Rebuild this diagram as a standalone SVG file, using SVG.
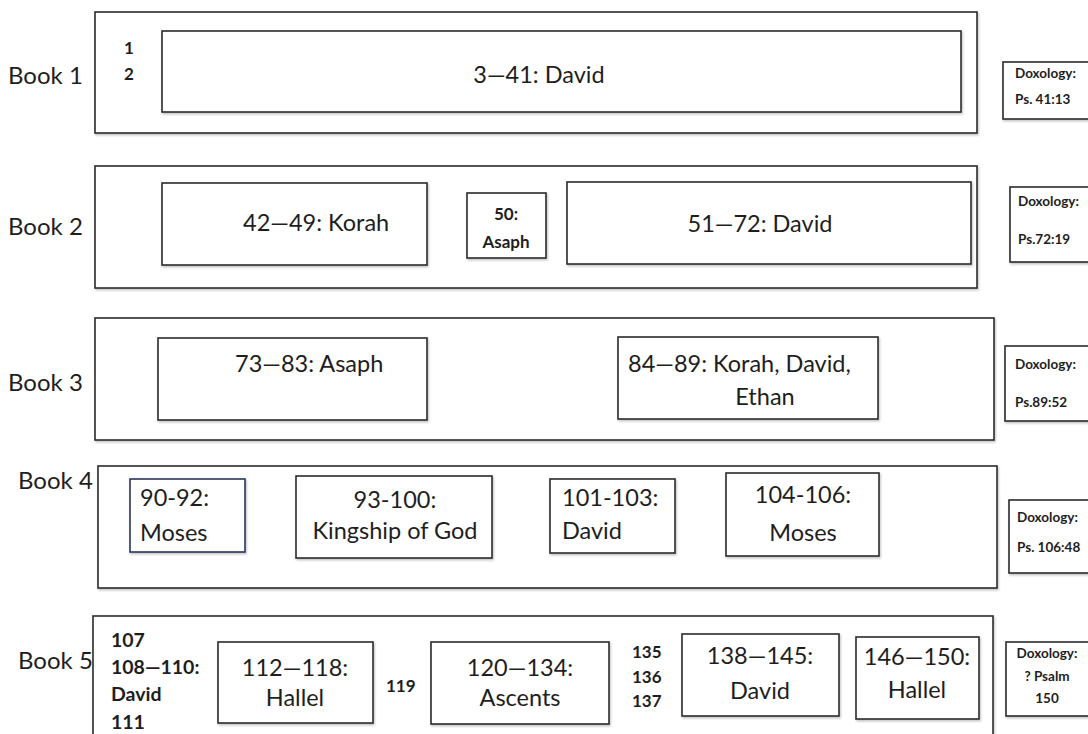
<svg xmlns="http://www.w3.org/2000/svg" width="1088" height="734" viewBox="0 0 1088 734">
<defs>
<filter id="sh" x="-5%" y="-5%" width="110%" height="115%"><feDropShadow dx="1" dy="1.5" stdDeviation="1" flood-color="#000" flood-opacity="0.25"/></filter>
</defs>
<style>
rect{fill:#fff;stroke:#2b2b2b;stroke-width:1.6;filter:url(#sh)}
text{font-family:Lato,"Liberation Sans",sans-serif;fill:#1e1e1e}
.lbl{font-size:24px}
.m{font-size:23.5px}
.b{font-size:17px;font-weight:bold}
.b5{font-size:19.5px;font-weight:bold}
.s{font-size:13.5px;font-weight:bold}
.c{text-anchor:middle}
</style>
<rect width="1088" height="734" fill="#fff" style="stroke:none;filter:none"/>

<g id="book1">
<text class="lbl" x="8" y="84">Book 1</text>
<rect x="95" y="12" width="882" height="121"/>
<text class="b" x="124" y="54">1</text>
<text class="b" x="124" y="80">2</text>
<g id="b1-david"><rect x="162" y="31" width="799" height="81"/><text class="m c" x="539" y="83">3—41: David</text></g>
<g id="b1-dox"><rect x="1003" y="62" width="90" height="57"/><text class="s" x="1015" y="78">Doxology:</text><text class="s" x="1015" y="104">Ps. 41:13</text></g>
</g>

<g id="book2">
<text class="lbl" x="8" y="235">Book 2</text>
<rect x="95" y="166" width="882" height="122"/>
<g id="b2-korah"><rect x="162" y="183" width="265" height="82"/><text class="m" x="243" y="231">42—49: Korah</text></g>
<g id="b2-asaph"><rect x="467" y="193" width="79" height="65"/><text class="b c" x="506" y="220">50:</text><text class="b c" x="506" y="248">Asaph</text></g>
<g id="b2-david"><rect x="567" y="182" width="404" height="82"/><text class="m c" x="760" y="232">51—72: David</text></g>
<g id="b2-dox"><rect x="1010" y="187" width="90" height="75"/><text class="s" x="1018" y="206">Doxology:</text><text class="s" x="1018" y="244">Ps.72:19</text></g>
</g>

<g id="book3">
<text class="lbl" x="8" y="391">Book 3</text>
<rect x="95" y="318" width="899" height="122"/>
<g id="b3-asaph"><rect x="158" y="338" width="269" height="82"/><text class="m" x="235" y="372">73—83: Asaph</text></g>
<g id="b3-korah"><rect x="618" y="337" width="260" height="82"/><text class="m" x="628" y="372">84—89: Korah, David,</text><text class="m c" x="765" y="405">Ethan</text></g>
<g id="b3-dox"><rect x="1005" y="346" width="90" height="75"/><text class="s" x="1015" y="369">Doxology:</text><text class="s" x="1015" y="407">Ps.89:52</text></g>
</g>

<g id="book4">
<text class="lbl" x="18" y="489">Book 4</text>
<rect x="98" y="466" width="899" height="122"/>
<g id="b4-moses1"><rect x="130" y="479" width="115" height="73" style="stroke:#2a3560"/><text class="m" x="140" y="506">90-92:</text><text class="m" x="140" y="541">Moses</text></g>
<g id="b4-king"><rect x="296" y="476" width="196" height="82"/><text class="m c" x="395" y="508">93-100:</text><text class="m c" x="395" y="539">Kingship of God</text></g>
<g id="b4-david"><rect x="550" y="479" width="125" height="74"/><text class="m" x="562" y="506">101-103:</text><text class="m" x="562" y="539">David</text></g>
<g id="b4-moses2"><rect x="726" y="473" width="153" height="83"/><text class="m c" x="803" y="503">104-106:</text><text class="m c" x="803" y="541">Moses</text></g>
<g id="b4-dox"><rect x="1009" y="500" width="90" height="73"/><text class="s" x="1017" y="522">Doxology:</text><text class="s" x="1017" y="552">Ps. 106:48</text></g>
</g>

<g id="book5">
<text class="lbl" x="18" y="669">Book 5</text>
<rect x="93" y="616" width="900" height="140"/>
<text class="b5" x="111" y="647">107</text>
<text class="b5" x="111" y="674">108—110:</text>
<text class="b5" x="111" y="701">David</text>
<text class="b5" x="111" y="729">111</text>
<g id="b5-hallel1"><rect x="218" y="642" width="155" height="81"/><text class="m c" x="295" y="676">112—118:</text><text class="m c" x="295" y="706">Hallel</text></g>
<text class="b" x="386" y="692">119</text>
<g id="b5-ascents"><rect x="431" y="642" width="178" height="82"/><text class="m c" x="520" y="676">120—134:</text><text class="m c" x="520" y="706">Ascents</text></g>
<text class="b" x="632" y="658">135</text>
<text class="b" x="632" y="683">136</text>
<text class="b" x="632" y="707">137</text>
<g id="b5-david"><rect x="682" y="634" width="157" height="82"/><text class="m c" x="760" y="664">138—145:</text><text class="m c" x="760" y="699">David</text></g>
<g id="b5-hallel2"><rect x="856" y="637" width="123" height="82"/><text class="m c" x="917" y="665">146—150:</text><text class="m c" x="917" y="698">Hallel</text></g>
<g id="b5-dox"><rect x="1006" y="642" width="90" height="74"/><text class="s c" x="1047" y="658">Doxology:</text><text class="s c" x="1047" y="681">? Psalm</text><text class="s c" x="1047" y="703">150</text></g>
</g>

<g id="connectors"></g>
</svg>
